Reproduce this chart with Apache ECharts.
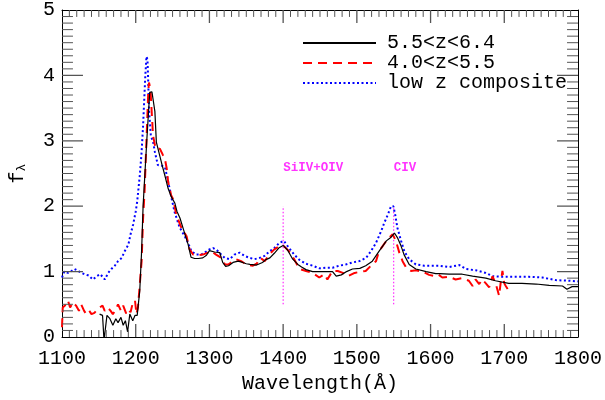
<!DOCTYPE html>
<html>
<head>
<meta charset="utf-8">
<script src="https://cdn.jsdelivr.net/npm/echarts@6/dist/echarts.min.js"></script>
<style>html,body{margin:0;padding:0;background:#fff;}#c{width:605px;height:400px;}</style>
</head>
<body>
<div id="c"></div>
<script>
const seriesNames = ['5.5<z<6.4', '4.0<z<5.5', 'low z composite'];
const xTicks = [1100, 1200, 1300, 1400, 1500, 1600, 1700, 1800];
const yTicks = [0, 1, 2, 3, 4, 5];

const highZWave = [1151,1155,1157,1159,1161,1165,1169,1173,1176,1180,1183,1186,1189,1192,1196,1199,1202,1205.5,1208,1210,1211,1215,1219,1222,1224,1226,1228,1232,1236,1240,1244,1248,1253,1256,1260,1266,1271,1275,1280,1285,1291,1296,1300,1307,1314,1318,1322,1326,1332,1339,1345,1350,1355,1364,1372,1376,1378,1382,1388,1394,1400,1406,1413,1420,1425,1431,1440,1449,1458,1467,1472,1479,1486,1494,1504,1512,1521,1530,1540,1546,1551,1555,1560,1564,1571,1580,1594,1607,1612,1625,1643,1657,1675,1688,1706,1724,1743,1761,1779,1785,1792,1800];
const highZFlux = [0.35,0.33,-0.05,-0.05,0.33,0.28,0.18,0.28,0.22,0.30,0.18,0.25,0.08,0.35,0.25,0.33,0.33,0.71,1.31,2.0,2.2,3.0,3.74,3.75,3.72,3.45,2.98,2.8,2.62,2.45,2.27,2.15,2.05,1.92,1.82,1.6,1.42,1.22,1.2,1.2,1.21,1.25,1.32,1.30,1.29,1.14,1.08,1.09,1.14,1.16,1.14,1.12,1.11,1.10,1.14,1.18,1.15,1.21,1.28,1.36,1.40,1.33,1.19,1.11,1.07,1.03,1.0,1.0,1.0,1.0,0.93,0.95,1.0,1.04,1.05,1.09,1.16,1.31,1.47,1.52,1.59,1.52,1.39,1.26,1.11,1.04,1.0,0.97,0.97,0.96,0.96,0.93,0.90,0.86,0.82,0.82,0.81,0.79,0.78,0.73,0.77,0.77];

const midZWave = [1100,1101,1104,1108,1111,1115,1119,1123,1126,1130,1133,1137,1140,1144,1148,1151,1155,1158,1162,1166,1169,1173,1176,1180,1183,1187,1190,1193,1196,1199,1201,1203,1205.5,1208,1210,1212,1214.5,1217,1218,1220,1221.5,1223.5,1227,1232.7,1237,1239.5,1242,1244,1248,1251,1255,1262,1269,1273,1278,1285,1291,1298,1303,1309,1316,1321,1326,1332,1336,1343,1350,1359,1364,1369,1375,1381,1388,1395,1401,1408,1415,1422,1431,1440,1449,1456,1460,1467,1474,1481,1488,1497,1506,1512,1521,1526,1530,1535,1540,1544,1548.6,1553,1557.6,1562,1567,1573.5,1580,1589,1598,1607,1611,1616,1625,1634,1643,1652,1657,1661,1666,1670,1675,1679.5,1684,1688.5,1693,1695,1697.5,1700,1702,1706];
const midZFlux = [0.15,0.45,0.48,0.56,0.45,0.53,0.48,0.40,0.50,0.40,0.35,0.40,0.35,0.37,0.42,0.45,0.48,0.40,0.45,0.40,0.35,0.42,0.50,0.40,0.48,0.36,0.42,0.38,0.52,0.56,0.35,0.45,0.8,1.16,1.82,2.22,2.98,3.74,3.89,3.79,3.48,3.08,2.88,2.88,2.78,2.73,2.58,2.37,2.17,2.1,1.87,1.67,1.54,1.34,1.26,1.25,1.26,1.29,1.31,1.26,1.21,1.11,1.11,1.16,1.19,1.16,1.11,1.09,1.12,1.21,1.16,1.26,1.34,1.39,1.39,1.31,1.19,1.04,1.01,0.98,0.91,0.96,0.88,1.01,1.01,0.98,0.93,0.98,1.0,1.01,1.11,1.16,1.31,1.39,1.47,1.52,1.57,1.47,1.29,1.16,1.06,1.01,1.02,1.0,0.95,0.93,0.95,0.91,0.92,0.88,0.90,0.86,0.78,0.88,0.81,0.88,0.82,0.76,0.93,0.81,0.63,0.82,1.01,0.82,0.78,0.71];

const lowZWave = [1100,1103,1108,1112,1117,1122,1126,1131,1136,1142,1147,1152,1158,1162.7,1167,1171.6,1176,1181,1185,1190,1193,1196.5,1200,1202,1205.6,1208,1210,1211.4,1213,1214.6,1216,1217,1218,1220.5,1223.6,1226,1230,1235,1239.5,1242,1246,1249,1253,1259.8,1266.5,1271,1275.6,1282,1289,1296,1300,1305,1310,1316,1320.7,1327.5,1334,1341,1347.7,1354.5,1361,1368,1374.8,1381.6,1388,1395,1401,1408,1415,1422,1431,1440,1449,1458,1467,1476,1485.5,1494,1503.5,1512.5,1519,1526,1533,1537,1542,1546.4,1549.5,1552,1555,1560,1564.4,1571,1580,1591.5,1602.7,1612,1625,1639,1648,1661.5,1675,1684,1697.5,1715.6,1733.6,1751.6,1769.7,1787.8,1800];
const lowZFlux = [0.91,1.0,0.98,1.0,1.04,1.01,0.98,0.96,0.94,0.88,0.93,0.96,0.88,0.98,1.04,1.09,1.16,1.21,1.31,1.41,1.57,1.72,1.92,2.07,2.48,2.83,3.23,3.59,3.99,4.29,4.24,3.89,3.48,3.08,2.98,2.83,2.63,2.62,2.6,2.48,2.27,2.1,1.9,1.67,1.54,1.44,1.31,1.26,1.26,1.31,1.34,1.36,1.33,1.26,1.21,1.19,1.26,1.29,1.24,1.21,1.19,1.21,1.24,1.31,1.36,1.44,1.47,1.36,1.26,1.18,1.12,1.09,1.05,1.06,1.06,1.09,1.11,1.14,1.16,1.21,1.31,1.44,1.62,1.74,1.87,2.0,2.0,1.87,1.67,1.47,1.31,1.19,1.11,1.09,1.09,1.09,1.07,1.10,1.04,1.02,0.98,0.93,0.92,0.92,0.92,0.91,0.87,0.86,0.85];

const lineLabels = ['SiIV+OIV', 'CIV'];
const lineWave = [1400, 1550];
const lineTop = 2.0;
const lineBottom = 0.5;
const labelY = 2.58;

const X_MIN = 1100, X_MAX = 1800, Y_MIN = 0, Y_MAX = 5;
const GRID = { left: 62, right: 26, top: 7, bottom: 63 };
const CW = 605, CH = 400;

function pairs(w, f) { return w.map((x, i) => [x, f[i]]); }

// Tick marks built as short segments in data space (lengths converted from pixels)
const xPerPx = (X_MAX - X_MIN) / (CW - GRID.left - GRID.right);
const yPerPx = (Y_MAX - Y_MIN) / (CH - GRID.top - GRID.bottom);
function tickSegments(major) {
  const pts = [];
  const gap = ['-', '-'];
  for (let v = X_MIN + 10; v < X_MAX; v += 10) {
    if (xTicks.includes(v) !== major) continue;
    const len = (major ? 13 : 7) * yPerPx;
    pts.push([v, Y_MIN], [v, Y_MIN + len], gap, [v, Y_MAX], [v, Y_MAX - len], gap);
  }
  for (let i = Y_MIN * 10 + 1; i < Y_MAX * 10; i++) {
    const v = i / 10;
    if (yTicks.includes(v) !== major) continue;
    const len = (major ? 21 : 11) * xPerPx;
    pts.push([X_MIN, v], [X_MIN + len, v], gap, [X_MAX, v], [X_MAX - len, v], gap);
  }
  return pts;
}

const FONT = 'Liberation Mono';
function xAxisBase() {
  return {
    type: 'value', min: X_MIN, max: X_MAX, interval: 100,
    axisLine: { show: true, onZero: false, lineStyle: { color: '#000000', width: 1 } },
    axisTick: { show: false }, minorTick: { show: false },
    splitLine: { show: false }, minorSplitLine: { show: false }
  };
}
function yAxisBase() {
  return {
    type: 'value', min: Y_MIN, max: Y_MAX, interval: 1,
    axisLine: { show: true, onZero: false, lineStyle: { color: '#000000', width: 1 } },
    axisTick: { show: false }, minorTick: { show: false },
    splitLine: { show: false }, minorSplitLine: { show: false }
  };
}

const markerSeries = lineWave.map((w, i) => ({
  name: 'marker' + i, type: 'line', symbol: 'none', silent: true, z: 1,
  data: [[w, lineBottom], [w, lineTop]],
  lineStyle: { color: '#ff00ff', width: 1, type: [1.5, 2] }, itemStyle: { color: '#ff00ff' }
}));

const tickSeries = [true, false].map(major => ({
  name: major ? 'ticksMajor' : 'ticksMinor', type: 'line', symbol: 'none', silent: true,
  connectNulls: false, z: 5, clip: false,
  data: tickSegments(major),
  lineStyle: { color: '#555555', width: major ? 1.3 : 1, type: 'solid' }, itemStyle: { color: '#555555' }
}));

const chart = echarts.init(document.getElementById('c'));
chart.setOption({
  animation: false,
  backgroundColor: '#ffffff',
  grid: GRID,
  xAxis: [
    Object.assign(xAxisBase(), {
      position: 'bottom',
      name: 'Wavelength(Å)', nameLocation: 'middle', nameGap: 35,
      nameTextStyle: { fontFamily: FONT, fontSize: 20, color: '#000000' },
      axisLabel: { show: true, margin: 12, fontFamily: FONT, fontSize: 20, color: '#000000',
        formatter: v => String(v) }
    }),
    Object.assign(xAxisBase(), { position: 'top', axisLabel: { show: false } })
  ],
  yAxis: [
    Object.assign(yAxisBase(), {
      position: 'left',
      name: '{f|f}{s|λ}', nameLocation: 'middle', nameGap: 34, nameRotate: 90,
      nameTextStyle: { rich: {
        f: { fontFamily: FONT, fontSize: 20, color: '#000000' },
        s: { fontFamily: FONT, fontSize: 13, color: '#000000', verticalAlign: 'bottom' }
      } },
      axisLabel: { show: true, margin: 7, fontFamily: FONT, fontSize: 20, color: '#000000' }
    }),
    Object.assign(yAxisBase(), { position: 'right', axisLabel: { show: false } })
  ],
  legend: {
    orient: 'vertical', left: 297, top: 28, itemGap: 0,
    itemWidth: 73, itemHeight: 12,
    data: seriesNames,
    itemStyle: { opacity: 0 },
    textStyle: { fontFamily: FONT, fontSize: 20, color: '#000000', lineHeight: 19, padding: [0, 0, 0, 6] }
  },
  series: [
    { name: seriesNames[0], type: 'line', data: pairs(highZWave, highZFlux), symbol: 'none', clip: true,
      lineStyle: { color: '#000000', width: 1.2, type: 'solid' }, itemStyle: { color: '#000000' }, z: 4 },
    { name: seriesNames[1], type: 'line', data: pairs(midZWave, midZFlux), symbol: 'none', clip: true,
      lineStyle: { color: '#ff0000', width: 2, type: [9, 6] }, itemStyle: { color: '#ff0000' }, z: 3 },
    { name: seriesNames[2], type: 'line', data: pairs(lowZWave, lowZFlux), symbol: 'none', clip: true,
      lineStyle: { color: '#0000ff', width: 2, type: [2, 2.5] }, itemStyle: { color: '#0000ff' }, z: 2 }
  ].concat(markerSeries, tickSeries, [
    { name: 'labels', type: 'scatter', symbolSize: 0, silent: true,
      data: lineWave.map((w, i) => ({ value: [w, labelY], name: lineLabels[i] })),
      label: { show: true, position: [0, 0], align: 'left', verticalAlign: 'middle',
        formatter: p => p.name, fontFamily: FONT, fontSize: 12.5, fontWeight: 'bold', color: '#ff00ff' } }
  ])
});
</script>
</body>
</html>
